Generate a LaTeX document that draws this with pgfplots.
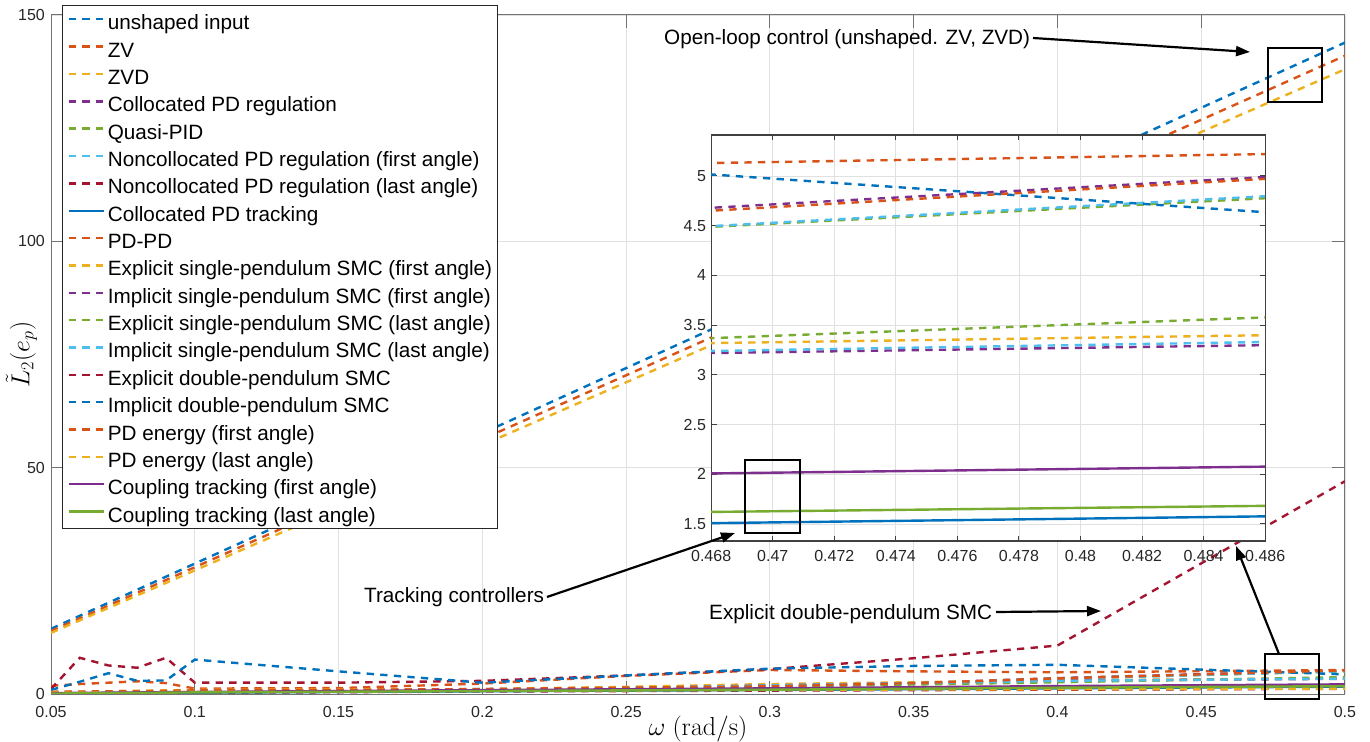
\RequirePackage{fix-cm}
\documentclass[border=0pt]{standalone}
\usepackage[no-math]{fontspec}
\setmainfont{Liberation Sans}
\usepackage{pgfplots}
\pgfplotsset{compat=1.18}
\usepackage{pgfplotstable}
\usetikzlibrary{arrows.meta}
\definecolor{mB}{rgb}{0,0.447,0.741}
\definecolor{mO}{rgb}{0.850,0.325,0.098}
\definecolor{mY}{rgb}{0.929,0.694,0.125}
\definecolor{mP}{rgb}{0.494,0.184,0.556}
\definecolor{mG}{rgb}{0.466,0.674,0.188}
\definecolor{mC}{rgb}{0.301,0.745,0.933}
\definecolor{mR}{rgb}{0.635,0.078,0.184}
\definecolor{gridc}{rgb}{0.88,0.88,0.88}
\definecolor{axc}{rgb}{0.45,0.45,0.45}
\definecolor{axi}{rgb}{0.25,0.25,0.25}
\definecolor{tcol}{rgb}{0.15,0.15,0.15}
\tikzset{dsh/.style={line width=2.4bp, dash pattern=on 7.3bp off 6.3bp},
         sol/.style={line width=2.4bp, solid}}
\newcommand{\annfont}{\fontsize{20.7bp}{24bp}\selectfont}
\newcommand{\tickfont}{\fontsize{16bp}{18bp}\selectfont}
% low-valued controllers: columns s4 ... s19 in legend order
\pgfplotstableread{
w     s4   s5   s6   s7   s8   s9   s10  s11  s12  s13  s14   s15  s16  s17  s18  s19
0.05  0.20 0.20 0.30 0.10 0.10 1.80 0.40 0.30 0.20 0.30 1.10  0.90 0.50 0.30 0.20 0.10
0.06  0.25 0.25 0.30 0.12 0.14 2.20 0.50 0.35 0.25 0.35 8.00  2.70 0.55 0.35 0.25 0.15
0.07  0.30 0.30 0.35 0.15 0.18 2.50 0.60 0.40 0.30 0.40 6.30  4.60 0.60 0.38 0.30 0.20
0.08  0.35 0.35 0.40 0.18 0.22 2.80 0.70 0.45 0.35 0.45 5.80  2.90 0.65 0.41 0.35 0.25
0.09  0.40 0.40 0.45 0.20 0.26 2.40 0.80 0.50 0.40 0.50 8.00  3.00 0.70 0.45 0.40 0.30
0.10  0.50 0.45 0.50 0.25 0.30 1.20 0.90 0.60 0.50 0.60 2.50  7.60 0.80 0.50 0.45 0.35
0.15  0.70 0.70 0.80 0.40 0.45 1.30 1.00 0.80 0.70 0.75 2.50  5.00 0.90 0.60 0.65 0.50
0.20  1.00 0.95 1.10 0.55 0.60 2.30 1.05 0.90 0.80 0.85 2.90  2.50 1.10 0.70 0.85 0.65
0.25  1.30 1.20 1.40 0.65 0.75 4.00 1.60 1.30 1.20 1.30 4.10  4.10 1.40 0.80 1.05 0.80
0.30  1.60 1.50 1.70 0.75 0.90 5.30 2.20 1.90 1.60 1.90 5.50  5.60 1.70 0.90 1.25 0.95
0.35  2.40 2.30 2.30 0.85 1.05 5.00 2.60 2.40 2.10 2.40 7.90  6.20 2.40 1.00 1.50 1.15
0.40  3.51 3.40 3.36 0.95 1.25 4.79 3.02 2.92 2.58 2.90 10.70 6.45 3.44 1.05 1.75 1.39
0.50  5.23 5.00 5.03 1.15 1.63 5.29 3.46 3.36 3.74 3.40 47.00 4.34 5.22 1.20 2.13 1.73
}\lowdata
\begin{document}
\begin{tikzpicture}
\begin{axis}[
  at={(51bp,48bp)}, anchor=south west,
  scale only axis, width=1294bp, height=679bp,
  xmin=0.05, xmax=0.5, ymin=0, ymax=150,
  xtick={0.05,0.1,0.15,0.2,0.25,0.3,0.35,0.4,0.45,0.5},
  xticklabels={0.05,0.1,0.15,0.2,0.25,0.3,0.35,0.4,0.45,0.5},
  ytick={0,50,100,150}, yticklabels={0,50,100,150},
  xtick pos=both, ytick pos=both,
  xticklabel pos=lower, yticklabel pos=left,
  grid=major, major grid style={color=gridc, line width=0.8bp},
  axis line style={color=axc, line width=1bp},
  tick style={color=axc, line width=1bp},
  major tick length=13bp, tick align=inside,
  xticklabel style={font=\tickfont, text=tcol, anchor=base, inner sep=0pt, yshift=-23bp},
  yticklabel style={font=\tickfont, text=tcol, anchor=east, inner sep=0pt, xshift=-6bp},
  xlabel={$\omega\ (\mathrm{rad/s})$},
  xlabel style={at={(axis description cs:0.5,-0.0605)}, anchor=base, font=\fontsize{26bp}{30bp}\selectfont, inner sep=0pt},
  ylabel={$\tilde{L}_2(e_p)$},
  ylabel style={at={(axis description cs:-0.01662,0.5)}, anchor=base, font=\fontsize{26bp}{30bp}\selectfont, inner sep=0pt},
  legend style={at={(0.0085,1.0147)}, anchor=north west, draw=black!85, line width=0.9bp, fill=white,
    font=\annfont, inner xsep=5bp, inner ysep=5.3bp, row sep=7.35bp, column sep=3bp,
    nodes={inner sep=0pt, text height=19bp, text depth=1bp}},
  legend cell align=left,
  legend image code/.code={\draw[#1] (0bp,1.5bp) -- (35bp,1.5bp);},
]
\addplot[mB,dsh] coordinates {(0.05,14.4) (0.1,28.8) (0.2,57.6) (0.3,86.4) (0.4,115.1) (0.5,143.9)};
\addlegendentry{unshaped input}
\addplot[mO,dsh] coordinates {(0.05,13.9) (0.1,28.0) (0.2,56.3) (0.3,84.5) (0.4,112.7) (0.5,141.0)};
\addlegendentry{ZV}
\addplot[mY,dsh] coordinates {(0.05,13.5) (0.1,27.3) (0.2,55.0) (0.3,82.7) (0.4,110.3) (0.5,138.0)};
\addlegendentry{ZVD}
\addplot[mP,dsh] table[x=w,y=s4] {\lowdata};  \addlegendentry{Collocated PD regulation}
\addplot[mG,dsh] table[x=w,y=s5] {\lowdata};  \addlegendentry{Quasi-PID}
\addplot[mC,dsh] table[x=w,y=s6] {\lowdata};  \addlegendentry{Noncollocated PD regulation (first angle)\hspace{12bp}}
\addplot[mR,dsh] table[x=w,y=s7] {\lowdata};  \addlegendentry{Noncollocated PD regulation (last angle)}
\addplot[mB,sol] table[x=w,y=s8] {\lowdata};  \addlegendentry{Collocated PD tracking}
\addplot[mO,dsh] table[x=w,y=s9] {\lowdata};  \addlegendentry{PD-PD}
\addplot[mY,dsh] table[x=w,y=s10] {\lowdata}; \addlegendentry{Explicit single-pendulum SMC (first angle)}
\addplot[mP,dsh] table[x=w,y=s11] {\lowdata}; \addlegendentry{Implicit single-pendulum SMC (first angle)}
\addplot[mG,dsh] table[x=w,y=s12] {\lowdata}; \addlegendentry{Explicit single-pendulum SMC (last angle)}
\addplot[mC,dsh] table[x=w,y=s13] {\lowdata}; \addlegendentry{Implicit single-pendulum SMC (last angle)}
\addplot[mR,dsh] table[x=w,y=s14] {\lowdata}; \addlegendentry{Explicit double-pendulum SMC}
\addplot[mB,dsh] table[x=w,y=s15] {\lowdata}; \addlegendentry{Implicit double-pendulum SMC}
\addplot[mO,dsh] table[x=w,y=s16] {\lowdata}; \addlegendentry{PD energy (first angle)}
\addplot[mY,dsh] table[x=w,y=s17] {\lowdata}; \addlegendentry{PD energy (last angle)}
\addplot[mP,sol] table[x=w,y=s18] {\lowdata}; \addlegendentry{Coupling tracking (first angle)}
\addplot[mG,sol] table[x=w,y=s19] {\lowdata}; \addlegendentry{Coupling tracking (last angle)}
\end{axis}
% zoomed inset
\begin{axis}[
  at={(711bp,201bp)}, anchor=south west,
  scale only axis, width=554bp, height=406bp,
  xmin=0.468, xmax=0.486, ymin=1.329, ymax=5.412,
  axis background/.style={fill=white},
  xtick={0.468,0.470,0.472,0.474,0.476,0.478,0.480,0.482,0.484,0.486},
  xticklabels={0.468,0.47,0.472,0.474,0.476,0.478,0.48,0.482,0.484,0.486},
  ytick={1.5,2,2.5,3,3.5,4,4.5,5}, yticklabels={1.5,2,2.5,3,3.5,4,4.5,5},
  xtick pos=both, ytick pos=both,
  xticklabel pos=lower, yticklabel pos=left,
  grid=major, major grid style={color=gridc, line width=0.8bp},
  axis line style={color=axi, line width=1.3bp},
  tick style={color=axi, line width=1bp},
  major tick length=5.5bp, tick align=inside,
  xticklabel style={font=\tickfont, text=tcol, anchor=base, inner sep=0pt, yshift=-21bp},
  yticklabel style={font=\tickfont, text=tcol, anchor=east, inner sep=0pt, xshift=-5bp},
]
\addplot[mP,dsh] table[x=w,y=s4] {\lowdata};
\addplot[mG,dsh] table[x=w,y=s5] {\lowdata};
\addplot[mC,dsh] table[x=w,y=s6] {\lowdata};
\addplot[mR,dsh] table[x=w,y=s7] {\lowdata};
\addplot[mB,sol] table[x=w,y=s8] {\lowdata};
\addplot[mO,dsh] table[x=w,y=s9] {\lowdata};
\addplot[mY,dsh] table[x=w,y=s10] {\lowdata};
\addplot[mP,dsh] table[x=w,y=s11] {\lowdata};
\addplot[mG,dsh] table[x=w,y=s12] {\lowdata};
\addplot[mC,dsh] table[x=w,y=s13] {\lowdata};
\addplot[mR,dsh] table[x=w,y=s14] {\lowdata};
\addplot[mB,dsh] table[x=w,y=s15] {\lowdata};
\addplot[mO,dsh] table[x=w,y=s16] {\lowdata};
\addplot[mY,dsh] table[x=w,y=s17] {\lowdata};
\addplot[mP,sol] table[x=w,y=s18] {\lowdata};
\addplot[mG,sol] table[x=w,y=s19] {\lowdata};
\end{axis}
% annotations (figure pixel coordinates, y downward)
\begin{scope}[x=1bp,y=-1bp,yshift=742bp]
  \draw[black, line width=2.3bp] (1268,48) rectangle (1322,102);
  \draw[black, line width=2.3bp] (745,460) rectangle (800,533);
  \draw[black, line width=2.3bp] (1265,654) rectangle (1319,699);
  \draw[black, line width=2.2bp, -{Triangle[length=14bp,width=10bp]}] (1033,38) -- (1250,52);
  \draw[black, line width=2.2bp, -{Triangle[length=14bp,width=10bp]}] (547,597) -- (735,533);
  \draw[black, line width=2.2bp, -{Triangle[length=14bp,width=10bp]}] (996,612) -- (1101,611);
  \draw[black, line width=2.2bp, -{Triangle[length=14bp,width=10bp]}] (1279,654) -- (1236,546);
  \node[anchor=base west, inner sep=0pt, font=\annfont] at (664,44.5) {Open-loop control (unshaped. ZV, ZVD)};
  \node[anchor=base west, inner sep=0pt, font=\annfont] at (364,603) {Tracking controllers};
  \node[anchor=base west, inner sep=0pt, font=\annfont] at (709,620) {Explicit double-pendulum SMC};
\end{scope}
\pgfresetboundingbox
\path[use as bounding box] (0,0) rectangle (1370bp,742bp);
\end{tikzpicture}
\end{document}
